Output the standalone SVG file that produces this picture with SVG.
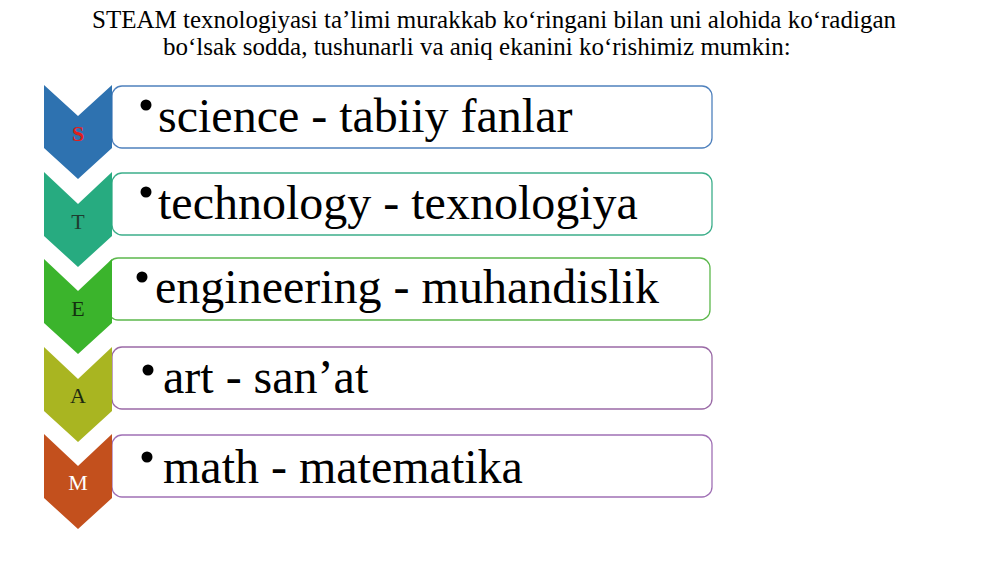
<svg xmlns="http://www.w3.org/2000/svg" width="1000" height="563" viewBox="0 0 1000 563">
<style>
.title{font-family:"Liberation Serif","Times New Roman",serif;font-size:25px;fill:#000}
.item{font-family:"Liberation Serif","Times New Roman",serif;font-size:48px;fill:#000}
.letter{font-family:"Liberation Serif","Times New Roman",serif;font-size:22px;text-anchor:middle}
.box{fill:#fff;stroke-width:1.3}
</style>
<rect width="1000" height="563" fill="#fff"/>
<g id="title">
<text class="title" x="92" y="28">STEAM texnologiyasi ta’limi murakkab ko‘ringani bilan uni alohida ko‘radigan</text>
<text class="title" x="163" y="55">bo‘lsak sodda, tushunarli va aniq ekanini ko‘rishimiz mumkin:</text>
</g>
<g id="node-s">
<rect class="box" x="112" y="86" width="600" height="62" rx="10" stroke="#4f81bd"/>
<path d="M44,85 L78,116 L112,85 L112,148 L78,179 L44,148 Z" fill="#2e72b0"/>
<text class="letter" x="78" y="141" fill="#e0201c" font-weight="bold">S</text>
<circle cx="146" cy="105" r="5.5"/>
<text class="item" x="158" y="132">science - tabiiy fanlar</text>
</g>
<g id="node-t">
<rect class="box" x="112" y="173" width="600" height="62" rx="10" stroke="#3cae8a"/>
<path d="M44,172 L78,204 L112,172 L112,236 L78,267 L44,236 Z" fill="#27ab80"/>
<text class="letter" x="78" y="229" fill="#1e3d30">T</text>
<circle cx="146" cy="192" r="5.5"/>
<text class="item" x="158" y="219">technology - texnologiya</text>
</g>
<g id="node-e">
<rect class="box" x="108" y="258" width="602" height="62" rx="10" stroke="#5cb84c"/>
<path d="M44,259 L78,291 L112,259 L112,323 L78,354 L44,323 Z" fill="#3bb42c"/>
<text class="letter" x="78" y="316" fill="#14300f">E</text>
<circle cx="142" cy="277" r="5.5"/>
<text class="item" x="155" y="303">engineering - muhandislik</text>
</g>
<g id="node-a">
<rect class="box" x="112" y="347" width="600" height="62" rx="10" stroke="#9a6aa6"/>
<path d="M44,347 L78,379 L112,347 L112,411 L78,442 L44,411 Z" fill="#a9b521"/>
<text class="letter" x="78" y="403" fill="#1d2a10">A</text>
<circle cx="148" cy="370" r="5.5"/>
<text class="item" x="163" y="393">art - san’at</text>
</g>
<g id="node-m">
<rect class="box" x="112" y="435" width="600" height="62" rx="10" stroke="#a070b5"/>
<path d="M44,434 L78,466 L112,434 L112,498 L78,529 L44,498 Z" fill="#c3501d"/>
<text class="letter" x="78" y="490" fill="#ffffff">M</text>
<circle cx="147" cy="457" r="5.5"/>
<text class="item" x="163" y="483">math - matematika</text>
</g>
<g id="connectors"/>
</svg>
